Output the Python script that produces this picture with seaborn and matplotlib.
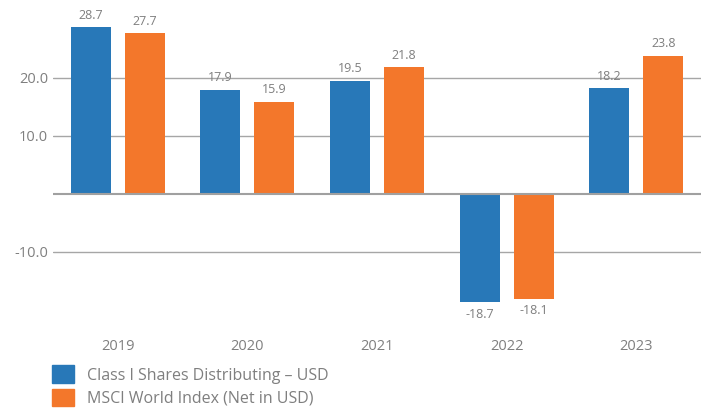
import matplotlib
matplotlib.use("Agg")
import matplotlib.pyplot as plt
import seaborn as sns
import pandas as pd

years = ["2019", "2020", "2021", "2022", "2023"]
fund = [28.7, 17.9, 19.5, -18.7, 18.2]
index = [27.7, 15.9, 21.8, -18.1, 23.8]
series = ["Class I Shares Distributing – USD", "MSCI World Index (Net in USD)"]
colors = ["#2878B8", "#F3772B"]

df = pd.DataFrame({
    "year": years * 2,
    "value": fund + index,
    "series": [series[0]] * len(years) + [series[1]] * len(years),
})

sns.set_style("white")
plt.rcParams["font.family"] = ["Open Sans", "DejaVu Sans"]
grey = "#7F7F7F"

fig = plt.figure(figsize=(7.01, 4.15), dpi=100)
ax = fig.add_axes([53 / 701, 1 - 325 / 415, 1 - 53 / 701, 325 / 415])

sns.barplot(data=df, x="year", y="value", hue="series", palette=colors,
            width=0.833, gap=0.26, saturation=1, legend=False,
            linewidth=0, ax=ax)

for c in ax.containers:
    labels = [f"{v:.1f}" for v in c.datavalues]
    ax.bar_label(c, labels=labels, padding=4, fontsize=9, color=grey)

ax.set_ylim(-22.6, 33.4)
ax.set_xlim(-0.5, 4.5)
ax.set_yticks([-10, 10, 20])
ax.set_yticklabels(["-10.0", "10.0", "20.0"])
ax.yaxis.grid(True, color="#A6A6A6", linewidth=1)
ax.axhline(0, color="#A0A0A0", linewidth=1.5, zorder=3)
ax.set_axisbelow(True)
for s in ax.spines.values():
    s.set_visible(False)
ax.tick_params(axis="both", length=0, labelsize=10.5, labelcolor=grey)
ax.tick_params(axis="x", pad=10)
ax.set_xlabel("")
ax.set_ylabel("")

handles = [plt.Rectangle((0, 0), 1, 1, color=c) for c in colors]
fig.legend(handles, series, loc="lower left", bbox_to_anchor=(38 / 701, -0.015),
           frameon=False, fontsize=11.5, labelcolor=grey, handlelength=1.35,
           handleheight=1.35, handletextpad=0.8, labelspacing=0.3)

fig.savefig("out.png", dpi=100)
